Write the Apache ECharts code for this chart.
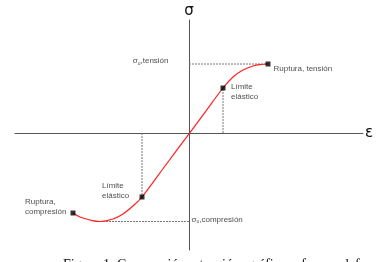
<!DOCTYPE html>
<html>
<head>
<meta charset="utf-8">
<script src="https://cdn.jsdelivr.net/npm/echarts@6/dist/echarts.min.js"></script>
<style>
  html, body { margin: 0; padding: 0; background: #fff; }
  #chart { width: 381px; height: 262px; }
</style>
</head>
<body>
<div id="chart"></div>
<script>
// esfuerzo-deformación (unidades arbitrarias)
var curveStrain = [-5.8, -5.45, -4.95, -4.45, -3.8, -3.3, -2.8, -2.35, -1.2, 0, 0.8, 1.7, 2.2, 2.7, 3.2, 3.6, 3.95];
var curveStress = [-8.0, -8.4, -8.7, -8.85, -8.6, -8.1, -7.3, -6.4, -3.3, -0.08, 2.07, 4.5, 5.6, 6.3, 6.7, 6.85, 6.9];

var pointNames = ["Ruptura, tensión", "Límite\nelástico", "Límite\nelástico", "Ruptura,\ncompresión"];
var pointStrain = [3.95, 1.7, -2.35, -5.8];
var pointStress = [6.9, 4.5, -6.4, -8.0];

var ultimateNames = ["σ{s|u},tensión", "σ{s|u},compresión"];
var ultimateStrain = [3.95, -4.45];
var ultimateStress = [6.9, -8.85];

var caption = "Figura 1. Compresión y tensión: gráfica esfuerzo-deformación";

var chart = echarts.init(document.getElementById("chart"));

var curve = curveStrain.map(function (x, i) { return [x, curveStress[i]]; });

// label placement for each marked point
var pointLabels = [
  { position: "right", distance: 3 },
  { position: [10.5, -3.5] },
  { position: [-37.5, -13.5] },
  { position: [-45.5, -13.5] }
];
var points = pointStrain.map(function (x, i) {
  return {
    value: [x, pointStress[i]],
    label: Object.assign({ show: true, formatter: pointNames[i] }, pointLabels[i])
  };
});

var dash = { color: "#777", width: 1, type: [2, 1] };

// guide lines: two horizontal to the y axis, two vertical to the x axis
var guides = [
  [[0, ultimateStress[0]], [ultimateStrain[0], ultimateStress[0]]],
  [[pointStrain[1], 0], [pointStrain[1], pointStress[1]]],
  [[pointStrain[2], 0], [pointStrain[2], pointStress[2]]],
  [[ultimateStrain[1], ultimateStress[1]], [0, ultimateStress[1]]]
];
var guideSeries = guides.map(function (g) {
  return {
    type: "line",
    data: g,
    symbol: "none",
    silent: true,
    lineStyle: dash,
    z: 1
  };
});

var ultimateLabels = [
  { position: "left", distance: 20, offset: [0, -3] },
  { position: "right", distance: 2, offset: [0, -2] }
];
var ultimatePoints = ultimateNames.map(function (n, i) {
  return {
    value: [0, ultimateStress[i]],
    label: Object.assign({ show: true, formatter: n }, ultimateLabels[i])
  };
});

var textBase = {
  fontFamily: "Liberation Sans, Arial, sans-serif",
  fontSize: 8,
  lineHeight: 10,
  color: "#1a1a1a",
  align: "left"
};

var option = {
  backgroundColor: "#fff",
  animation: false,
  grid: { left: 15, right: 18, top: 20, bottom: 12 },
  xAxis: {
    type: "value",
    min: -8.7,
    max: 8.7,
    name: "ε",
    nameLocation: "end",
    nameGap: 2,
    nameTextStyle: { fontSize: 15, color: "#111", fontFamily: "DejaVu Sans", padding: [0, 0, 5, 0] },
    axisLine: { lineStyle: { color: "#555", width: 1 } },
    axisTick: { show: false },
    axisLabel: { show: false },
    splitLine: { show: false }
  },
  yAxis: {
    type: "value",
    min: -11.7,
    max: 11.3,
    name: "σ",
    nameLocation: "end",
    nameGap: 1,
    nameTextStyle: { fontSize: 15, color: "#111", fontFamily: "DejaVu Sans" },
    axisLine: { lineStyle: { color: "#555", width: 1 } },
    axisTick: { show: false },
    axisLabel: { show: false },
    splitLine: { show: false }
  },
  graphic: [
    {
      type: "text",
      left: 63,
      top: 258,
      style: {
        text: caption,
        font: "14px Liberation Serif",
        fill: "#111"
      }
    }
  ],
  series: guideSeries.concat([
    {
      type: "line",
      data: curve,
      smooth: 0.4,
      symbol: "none",
      lineStyle: { color: "#ff2020", width: 1.2 },
      z: 3
    },
    {
      type: "scatter",
      data: points,
      symbol: "rect",
      symbolSize: 5,
      itemStyle: { color: "#000" },
      label: Object.assign({ verticalAlign: "top" }, textBase),
      z: 4
    },
    {
      type: "scatter",
      data: ultimatePoints,
      symbolSize: 1,
      itemStyle: { color: "rgba(0,0,0,0)" },
      label: Object.assign({}, textBase, {
        align: null,
        rich: { s: { fontSize: 5, padding: [5, 0, 0, 0], color: "#222" } }
      }),
      z: 4
    }
  ])
};

option && chart.setOption(option);
</script>
</body>
</html>
